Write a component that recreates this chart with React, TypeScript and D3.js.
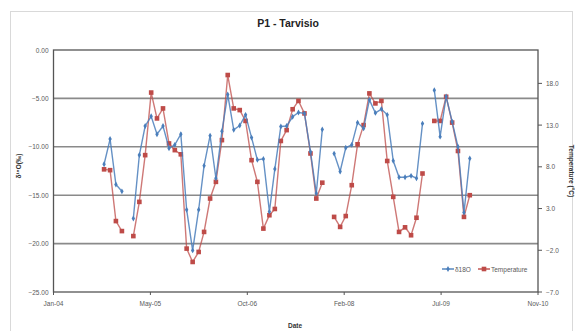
import React, { useRef, useEffect } from "react";
import * as d3 from "d3";

// monthly samples, Oct 2004 .. Dec 2009 (null = no sample)
const months = d3.utcMonth.range(new Date(Date.UTC(2004, 9, 1)), new Date(Date.UTC(2010, 0, 1)));

const d18O: (number | null)[] = [
  -11.8, -9.2, -13.9, -14.6, null, -17.4, -10.85, -7.85, -6.85, -8.7,
  -7.85, -10.15, -9.8, -8.7, -16.5, -20.7, -16.5, -11.95, -8.85, -13.25,
  -8.4, -4.6, -8.25, -7.8, -6.7, -9.05, -11.35, -11.25, -16.7, -12.3,
  -7.9, -7.85, -6.9, -6.45, -6.55, -10.5, -14.8, -8.2, null, -10.7,
  -12.55, -10.1, -9.8, -7.5, -8.1, -5.15, -6.5, -6.1, -6.7, -11.45,
  -13.15, -13.15, -13.0, -13.25, -7.6, null, -4.15, -8.95, -4.8, -7.4,
  -10.0, -16.8, -11.2,
];

const temperature: (number | null)[] = [
  7.7, 7.6, 1.5, 0.3, null, -0.3, 3.8, 9.4, 16.9, 13.8,
  15.0, 10.8, 10.0, 9.5, -1.8, -3.4, -2.2, 0.2, 4.2, 6.2,
  11.2, 19.0, 15.0, 14.8, 13.5, 8.8, 6.2, 0.6, 2.2, 2.95,
  11.1, 12.4, 14.9, 15.9, 14.4, 9.6, 4.2, 6.1, null, 2.0,
  0.8, 2.1, 5.8, 10.7, 13.0, 16.8, 15.6, 15.9, 8.7, 4.4,
  0.2, 0.75, -0.2, 1.9, 7.2, null, 13.5, 13.5, 16.4, 13.3,
  9.9, 2.0, 4.6,
];

const leftTicks = [0, -5, -10, -15, -20, -25];
const rightTicks = [18, 13, 8, 3, -2, -7];

// Excel serial 38000 .. 40500, major unit 500 days
const axisStart = new Date(Date.UTC(2004, 0, 14));
const dateTicks = d3.range(0, 6).map((i) => d3.utcDay.offset(axisStart, i * 500));

const W = 575;
const H = 331;
const plot = { left: 53.5, right: 538, top: 50, bottom: 292 };

const blue = "#4a7ebb";
const red = "#be4b48";
const font = "'Liberation Sans', Arial, sans-serif";

export default function App() {
  const svgRef = useRef<SVGSVGElement>(null);

  useEffect(() => {
    if (!svgRef.current) return;
    const svg = d3.select(svgRef.current);
    svg.selectAll("*").remove();

    const x = d3.scaleUtc().domain([dateTicks[0], dateTicks[5]]).range([plot.left, plot.right]);
    const yL = d3.scaleLinear().domain([-25, 0]).range([plot.bottom, plot.top]);
    const yR = d3.scaleLinear().domain([-7, 22]).range([plot.bottom, plot.top]);

    svg.append("rect").attr("width", W).attr("height", H).attr("fill", "#fff");
    svg.append("rect")
      .attr("x", 10.5).attr("y", 11.5).attr("width", 562).attr("height", 330)
      .attr("fill", "none").attr("stroke", "#d9d9d9").attr("stroke-width", 1);

    svg.append("text")
      .attr("x", 288).attr("y", 27)
      .attr("text-anchor", "middle")
      .attr("font-family", font).attr("font-weight", "bold").attr("font-size", 10.5)
      .attr("fill", "#222")
      .text("P1 - Tarvisio");

    // gridlines
    svg.append("g").selectAll("line")
      .data(leftTicks.filter((t) => t !== 0 && t !== -25))
      .join("line")
      .attr("x1", plot.left).attr("x2", plot.right)
      .attr("y1", (d) => yL(d)).attr("y2", (d) => yL(d))
      .attr("stroke", "#8a8a8a").attr("stroke-width", 1.6);

    // plot frame
    svg.append("rect")
      .attr("x", plot.left).attr("y", plot.top)
      .attr("width", plot.right - plot.left).attr("height", plot.bottom - plot.top)
      .attr("fill", "none").attr("stroke", "#555").attr("stroke-width", 1.3);

    // left axis labels
    svg.append("g").selectAll("text")
      .data(leftTicks)
      .join("text")
      .attr("x", plot.left - 5).attr("y", (d) => yL(d) + 2.5)
      .attr("text-anchor", "end")
      .attr("font-family", font).attr("font-size", 6.5).attr("fill", "#595959")
      .text((d) => d3.format(".2f")(d));

    // right axis ticks and labels
    const gr = svg.append("g");
    gr.selectAll("line")
      .data(rightTicks)
      .join("line")
      .attr("x1", plot.right).attr("x2", plot.right + 4)
      .attr("y1", (d) => yR(d)).attr("y2", (d) => yR(d))
      .attr("stroke", "#555");
    gr.selectAll("text")
      .data(rightTicks)
      .join("text")
      .attr("x", plot.right + 8).attr("y", (d) => yR(d) + 2.5)
      .attr("font-family", font).attr("font-size", 6.5).attr("fill", "#595959")
      .text((d) => d3.format(".1f")(d));

    // x axis ticks and labels
    const gx = svg.append("g");
    gx.selectAll("line")
      .data(dateTicks)
      .join("line")
      .attr("x1", (d) => x(d)).attr("x2", (d) => x(d))
      .attr("y1", plot.bottom).attr("y2", plot.bottom + 3)
      .attr("stroke", "#555");
    gx.selectAll("text")
      .data(dateTicks)
      .join("text")
      .attr("x", (d) => x(d)).attr("y", plot.bottom + 14)
      .attr("text-anchor", "middle")
      .attr("font-family", font).attr("font-size", 6.5).attr("fill", "#595959")
      .text((d) => d3.utcFormat("%b-%y")(d));

    // axis titles
    svg.append("text")
      .attr("x", 295).attr("y", 328)
      .attr("text-anchor", "middle")
      .attr("font-family", font).attr("font-size", 6.5).attr("font-weight", "bold").attr("fill", "#333")
      .text("Date");
    svg.append("text")
      .attr("transform", `translate(21,166) rotate(-90)`)
      .attr("text-anchor", "middle")
      .attr("font-family", font).attr("font-size", 6.5).attr("font-weight", "bold").attr("fill", "#333")
      .text("δ¹⁸O(‰)");
    svg.append("text")
      .attr("transform", `translate(569,171) rotate(90)`)
      .attr("text-anchor", "middle")
      .attr("font-family", font).attr("font-size", 6.5).attr("font-weight", "bold").attr("fill", "#333")
      .text("Temperature (°C)");

    const idx = d3.range(months.length);

    // temperature series (right axis)
    const lineT = d3.line<number>()
      .defined((i) => temperature[i] != null)
      .x((i) => x(months[i]))
      .y((i) => yR(temperature[i] as number));
    svg.append("path")
      .attr("d", lineT(idx))
      .attr("fill", "none").attr("stroke", red).attr("stroke-opacity", 0.75).attr("stroke-width", 1.4);
    svg.append("g").selectAll("rect")
      .data(idx.filter((i) => temperature[i] != null))
      .join("rect")
      .attr("x", (i) => x(months[i]) - 2.3).attr("y", (i) => yR(temperature[i] as number) - 2.3)
      .attr("width", 4.6).attr("height", 4.6)
      .attr("fill", red);

    // d18O series (left axis)
    const lineO = d3.line<number>()
      .defined((i) => d18O[i] != null)
      .x((i) => x(months[i]))
      .y((i) => yL(d18O[i] as number));
    svg.append("path")
      .attr("d", lineO(idx))
      .attr("fill", "none").attr("stroke", blue).attr("stroke-opacity", 0.85).attr("stroke-width", 1.4);
    const diamond = d3.symbol().type(d3.symbolDiamond).size(10);
    svg.append("g").selectAll("path")
      .data(idx.filter((i) => d18O[i] != null))
      .join("path")
      .attr("d", diamond)
      .attr("transform", (i) => `translate(${x(months[i])},${yL(d18O[i] as number)})`)
      .attr("fill", blue);

    // legend
    const lg = svg.append("g").attr("transform", "translate(442,269)");
    lg.append("line").attr("x1", 0).attr("x2", 12).attr("stroke", blue).attr("stroke-width", 1.4);
    lg.append("path").attr("d", diamond).attr("transform", "translate(6,0)").attr("fill", blue);
    lg.append("text").attr("x", 13).attr("y", 2.5)
      .attr("font-family", font).attr("font-size", 6.5).attr("fill", "#595959").text("δ18O");
    lg.append("line").attr("x1", 36).attr("x2", 48).attr("stroke", red).attr("stroke-width", 1.4);
    lg.append("rect").attr("x", 39.7).attr("y", -2.3).attr("width", 4.6).attr("height", 4.6).attr("fill", red);
    lg.append("text").attr("x", 49).attr("y", 2.5)
      .attr("font-family", font).attr("font-size", 6.5).attr("fill", "#595959").text("Temperature");
  }, []);

  return (
    <div style={{ position: "absolute", left: 0, top: 0, width: W, height: H }}>
      <svg ref={svgRef} width={W} height={H} viewBox={`0 0 ${W} ${H}`} />
    </div>
  );
}
